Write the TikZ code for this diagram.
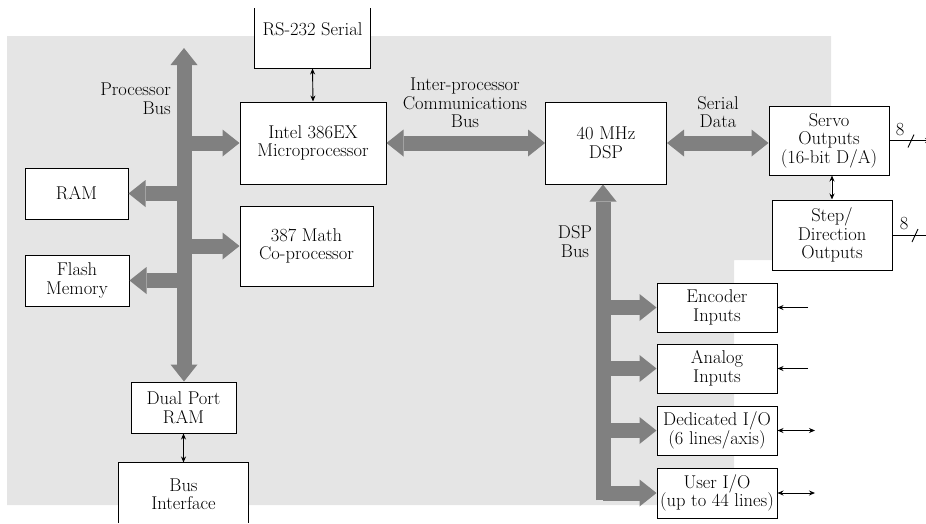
\documentclass[tikz,border=0pt]{standalone}
\usetikzlibrary{arrows.meta}
\definecolor{bggray}{gray}{0.898}
\definecolor{busgray}{gray}{0.5}

\begin{document}
\begin{tikzpicture}[x=1pt, y=-1pt,
    txt/.style={font=\fontsize{18.5}{18.5}\selectfont, align=center},
    blk/.style={txt, draw, line width=1pt, fill=white, inner sep=1pt},
    lbl/.style={txt, inner sep=0pt},
    bus/.style={draw=busgray, line width=15pt, >={Triangle[width=27pt,length=17pt,line width=0pt]}},
    sig/.style={line width=0.9pt, >={Stealth[length=6pt,width=5pt]}}]
        \useasboundingbox (0,0) rectangle (926,523);

        %%%%%%%%%% Sfondo %%%%%%%%%%
        \fill[bggray] (7,36) -- (831,36) -- (831,260) -- (734,260) -- (734,505) -- (7,505) -- cycle;

        %%%%%%%%%% Nodi %%%%%%%%%%
        \node[blk, draw=none, minimum width=115, minimum height=78] (rs) at (312.5,29) {RS-232 Serial};
        \node[blk, minimum width=146, minimum height=82] (intel) at (313,143) {Intel 386EX\\Microprocessor};
        \node[blk, minimum width=133, minimum height=80] (math) at (306.5,246) {387 Math\\Co-processor};
        \node[blk, minimum width=103, minimum height=51] (ram) at (76.5,193.5) {RAM};
        \node[blk, minimum width=104, minimum height=51] (flash) at (77,280.5) {Flash\\Memory};
        \node[blk, minimum width=105, minimum height=51] (dpram) at (183.5,407.5) {Dual Port\\RAM};
        \node[blk, draw=none, minimum width=129, minimum height=62] (bi) at (183.5,494) {Bus\\Interface};
        \node[blk, minimum width=121, minimum height=82] (dsp) at (606,143) {40 MHz\\DSP};
        \node[blk, minimum width=120, minimum height=69] (servo) at (829,140.5) {Servo\\Outputs\\(16-bit D/A)};
        \node[blk, minimum width=120, minimum height=70] (step) at (832,235) {Step/\\Direction\\Outputs};
        \node[blk, minimum width=120, minimum height=49] (enc) at (717,307.5) {Encoder\\Inputs};
        \node[blk, minimum width=120, minimum height=49] (ana) at (717,368.5) {Analog\\Inputs};
        \node[blk, minimum width=120, minimum height=49] (ded) at (717,430.5) {Dedicated I/O\\(6 lines/axis)};
        \node[blk, minimum width=120, minimum height=50] (usr) at (717,493) {User I/O\\(up to 44 lines)};

        % riquadri aperti
        \draw[line width=1pt] (rs.west |- 0,8) -- (rs.south west) -- (rs.south east) -- (rs.east |- 0,8);
        \draw[line width=1pt] (bi.west |- 0,523) -- (bi.north west) -- (bi.north east) -- (bi.east |- 0,523);

        %%%%%%%%%% Etichette %%%%%%%%%%
        \node[lbl, align=right, anchor=east] (pbus) at (171,99) {Processor\\Bus};
        \node[lbl] (ipbus) at (465,103) {Inter-processor\\Communications\\Bus};
        \node[lbl] (sdata) at (718,112) {Serial\\Data};
        \node[lbl] (dspbus) at (575,241.5) {DSP\\Bus};

        %%%%%%%%%% Bus %%%%%%%%%%
        \coordinate (pbtop) at (184,48);
        \coordinate (dspbot) at (603,500);
        \draw[bus, <->] (pbtop) -- (pbtop |- dpram.north);
        \draw[bus, ->] (pbtop |- intel.west) -- (intel.west);
        \draw[bus, ->] (pbtop |- math.west) -- (math.west);
        \draw[bus, ->] (pbtop |- ram.east) -- (ram.east);
        \draw[bus, ->] (pbtop |- flash.east) -- (flash.east);
        \draw[bus, <->] (intel.east) -- (dsp.west);
        \draw[bus, <->] (dsp.east) -- (dsp.east -| servo.west);
        \draw[bus, ->] (dspbot) -- (dspbot |- dsp.south);
        \draw[bus, ->] (dspbot |- enc.west) -- (enc.west);
        \draw[bus, ->] (dspbot |- ana.west) -- (ana.west);
        \draw[bus, ->] (dspbot |- ded.west) -- (ded.west);
        \draw[bus, ->] (dspbot |- usr.west) -- (usr.west);

        %%%%%%%%%% Archi %%%%%%%%%%
        \coordinate (encin) at (808,307.5);
        \coordinate (anain) at (808,368.5);
        \coordinate (dedio) at (815,430.5);
        \coordinate (usrio) at (815,493);
        \coordinate (servoout) at (931,140.5);
        \coordinate (stepout) at (934,235);
        \draw[sig, <->] (rs.south) -- (intel.north);
        \draw[sig, <->] (step.north |- servo.south) -- (step.north);
        \draw[sig, <->] (dpram.south) -- (bi.north);
        \draw[sig, ->] (encin) -- (enc.east);
        \draw[sig, ->] (anain) -- (ana.east);
        \draw[sig, <->] (ded.east) -- (dedio);
        \draw[sig, <->] (usr.east) -- (usrio);
        \draw[sig, ->] (servo.east) -- (servoout);
        \draw[sig, ->] (step.east) -- (stepout);
        \draw[sig] (908,147.5) -- (914,134.5);
        \draw[sig] (912,242) -- (918,229);
        \node[lbl] (n8a) at (900,130) {8};
        \node[lbl] (n8b) at (904,224) {8};
    \end{tikzpicture}
\end{document}
